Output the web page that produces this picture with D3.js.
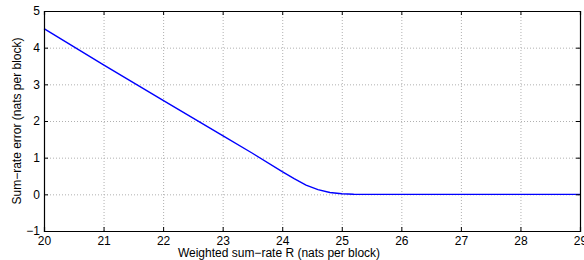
<!DOCTYPE html>
<html><head><meta charset="utf-8">
<script src="https://cdn.jsdelivr.net/npm/d3@7"></script>
<style>body{margin:0;background:#fff}svg{display:block}text{font-family:"Liberation Sans",Arial,sans-serif}</style>
</head><body><svg id="c" width="584" height="260"></svg>
<script>
const xVals = [20, 21, 22, 23, 23.5, 24, 24.2, 24.4, 24.6, 24.8, 25, 25.2, 25.4, 26, 27, 28, 29];
const yVals = [4.52, 3.53, 2.56, 1.6, 1.12, 0.62, 0.43, 0.25, 0.13, 0.05, 0.015, 0.003, 0, 0, 0, 0, 0];
const xTicks = [20, 21, 22, 23, 24, 25, 26, 27, 28, 29];
const yTicks = [-1, 0, 1, 2, 3, 4, 5];
const xLabel = "Weighted sum\u2212rate R (nats per block)";
const yLabel = "Sum\u2212rate error (nats per block)";

const svg = d3.select("#c");
const L = 44, R = 580, T = 11, B = 231;
const x = d3.scaleLinear().domain([20, 29]).range([L, R]);
const y = d3.scaleLinear().domain([-1, 5]).range([B, T]);

// grid
const g = svg.append("g");
g.selectAll(".gx").data(xTicks.slice(1, -1)).enter().append("line")
  .attr("x1", d => x(d) + 0.5).attr("x2", d => x(d) + 0.5).attr("y1", T).attr("y2", B)
  .attr("stroke", "#b0b0b0").attr("stroke-dasharray", "1,2");
g.selectAll(".gy").data(yTicks.slice(1, -1)).enter().append("line")
  .attr("y1", d => y(d) + 0.5).attr("y2", d => y(d) + 0.5).attr("x1", L).attr("x2", R)
  .attr("stroke", "#b0b0b0").attr("stroke-dasharray", "1,2");

// line
const data = xVals.map((v, i) => [v, yVals[i]]);
svg.append("path").datum(data)
  .attr("fill", "none").attr("stroke", "#0000ff").attr("stroke-width", 1.4)
  .attr("d", d3.line().x(d => x(d[0])).y(d => y(d[1])));

// axes
const fs = "12px";
const ax = svg.append("g").attr("transform", `translate(0,${B})`)
  .call(d3.axisBottom(x).tickValues(xTicks).tickSize(-4).tickPadding(5).tickFormat(d3.format("d")));
const axT = svg.append("g").attr("transform", `translate(0,${T})`)
  .call(d3.axisTop(x).tickValues(xTicks).tickSize(-4).tickFormat(""));
const ay = svg.append("g").attr("transform", `translate(${L},0)`)
  .call(d3.axisLeft(y).tickValues(yTicks).tickSize(-4).tickPadding(5).tickFormat(d => d < 0 ? "\u2212" + (-d) : d));
const ayR = svg.append("g").attr("transform", `translate(${R},0)`)
  .call(d3.axisRight(y).tickValues(yTicks).tickSize(-4).tickFormat(""));
[ax, axT, ay, ayR].forEach(a => {
  a.select(".domain").attr("stroke", "#000").attr("stroke-width", 1.2);
  a.selectAll(".tick line").attr("stroke", "#000");
  a.selectAll("text").attr("font-size", fs).attr("fill", "#000").style("font-family", "'Liberation Sans',Arial,sans-serif");
});
ay.selectAll("text").attr("x", -4);

svg.append("text").attr("x", 279).attr("y", 257).attr("text-anchor", "middle")
  .attr("font-size", fs).text(xLabel);
svg.append("text").attr("transform", "translate(17,121) rotate(-90)").attr("text-anchor", "middle")
  .attr("dy", "0.35em").attr("font-size", fs).text(yLabel);
</script></body></html>
